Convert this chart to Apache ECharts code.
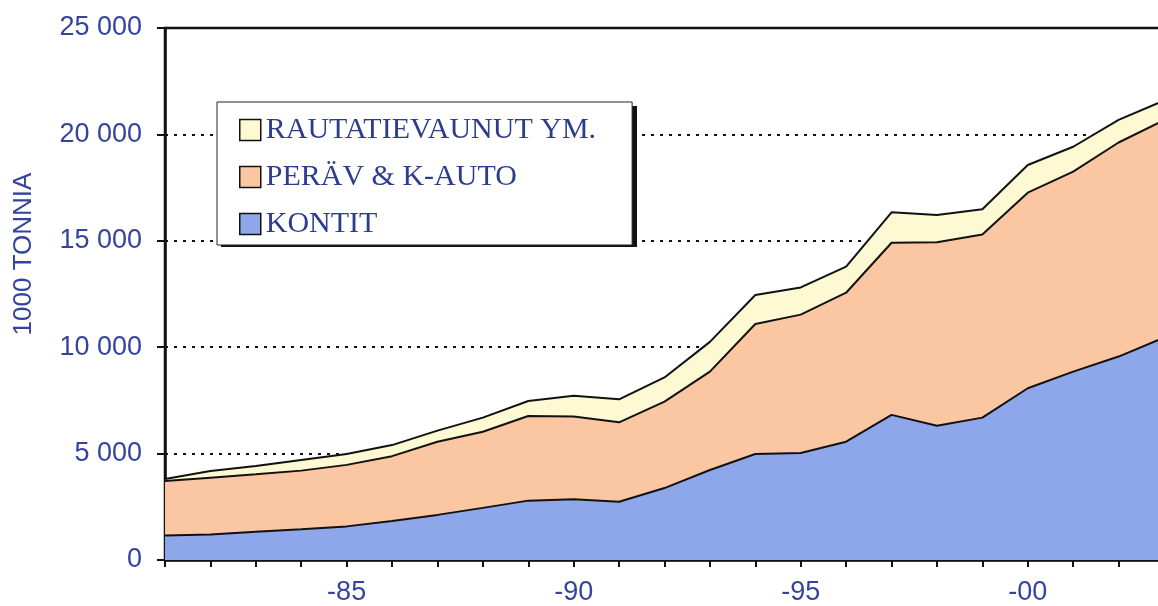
<!DOCTYPE html>
<html>
<head>
<meta charset="utf-8">
<script src="https://cdn.jsdelivr.net/npm/echarts@6/dist/echarts.min.js"></script>
<style>
html,body{margin:0;padding:0;background:#fff;}
#chart{width:1158px;height:606px;}
</style>
</head>
<body>
<div id="chart"></div>
<script>
// Categories (years 1981–2003)
const categories = ['-81','-82','-83','-84','-85','-86','-87','-88','-89','-90','-91','-92','-93','-94','-95','-96','-97','-98','-99','-00','-01','-02','-03'];
// 1000 tonnes
const kontit = [1150,1200,1330,1450,1580,1830,2120,2450,2790,2850,2740,3380,4230,4980,5030,5560,6820,6310,6690,8070,8850,9560,10450];
const peravKauto = [2560,2670,2700,2750,2890,3050,3440,3580,3980,3890,3730,4060,4620,6110,6500,7000,8090,8620,8610,9190,9400,10060,10220];
const rautatie = [100,310,390,500,510,520,520,660,700,980,1080,1140,1400,1360,1280,1230,1430,1280,1180,1300,1170,1060,920];
const seriesNames = ['KONTIT','PERÄV & K-AUTO','RAUTATIEVAUNUT YM.'];
const yTicks = [0,5000,10000,15000,20000,25000];
const yAxisName = '1000 TONNIA';

const textBlue = '#34449e';
const fmt = v => String(v).replace(/\B(?=(\d{3})+(?!\d))/g, ' ');

const chart = echarts.init(document.getElementById('chart'), null, {renderer:'canvas'});
const mk = (name, data, color) => ({
  name, type:'line', stack:'total', data,
  symbol:'none', smooth:false,
  itemStyle:{color: color, borderColor:'#000', borderWidth:1},
  lineStyle:{color:'#111', width:2},
  areaStyle:{color: color, opacity:1},
  emphasis:{disabled:true}
});
chart.setOption({
  animation:false,
  backgroundColor:'#fff',
  grid:{left:165, top:28, width:999, height:532, outerBoundsMode:'none', containLabel:false,
        show:true, borderColor:'#111', borderWidth:2.5, backgroundColor:'transparent'},
  graphic:[{
    type:'rect', z:5, silent:true,
    shape:{x:221, y:106, width:416, height:141},
    style:{fill:'#111'}
  }],
  legend:{
    z:10,
    data:[seriesNames[2], seriesNames[1], seriesNames[0]],
    orient:'vertical', left:217, top:102,
    icon:'rect', itemWidth:21, itemHeight:21, itemGap:17,
    padding:[13,36,6,22],
    backgroundColor:'#fff', borderColor:'#222', borderWidth:1,
    itemStyle:{borderColor:'#111', borderWidth:1.5},
    textStyle:{fontFamily:'Liberation Serif', fontSize:30, color:'#2e3c90', lineHeight:30},
    selectedMode:false
  },
  xAxis:{
    type:'category', data:categories, boundaryGap:false,
    axisLine:{lineStyle:{color:'#111', width:2.5}},
    axisTick:{show:true, interval:0, length:7, lineStyle:{color:'#111', width:2}},
    axisLabel:{interval:(i)=> i%5===4, margin:19, fontFamily:'Liberation Sans', fontSize:27, color:textBlue},
    splitLine:{show:false}
  },
  yAxis:{
    type:'value', min:yTicks[0], max:yTicks[yTicks.length-1], interval:5000,
    name:yAxisName, nameLocation:'middle', nameRotate:90, nameGap:128,
    nameTextStyle:{fontFamily:'Liberation Sans', fontSize:26, color:textBlue, padding:[0,0,0,80]},
    axisLine:{show:true, lineStyle:{color:'#111', width:2.5}},
    axisTick:{show:true, length:8, lineStyle:{color:'#111', width:2}},
    axisLabel:{margin:23, fontFamily:'Liberation Sans', fontSize:27, color:textBlue, formatter:fmt},
    splitLine:{show:true, lineStyle:{color:'#111', width:2, type:[3,6]}}
  },
  series:[
    mk(seriesNames[0], kontit, '#8ea7ea'),
    mk(seriesNames[1], peravKauto, '#fbc6a2'),
    mk(seriesNames[2], rautatie, '#fdf9d2')
  ]
});
</script>
</body>
</html>
